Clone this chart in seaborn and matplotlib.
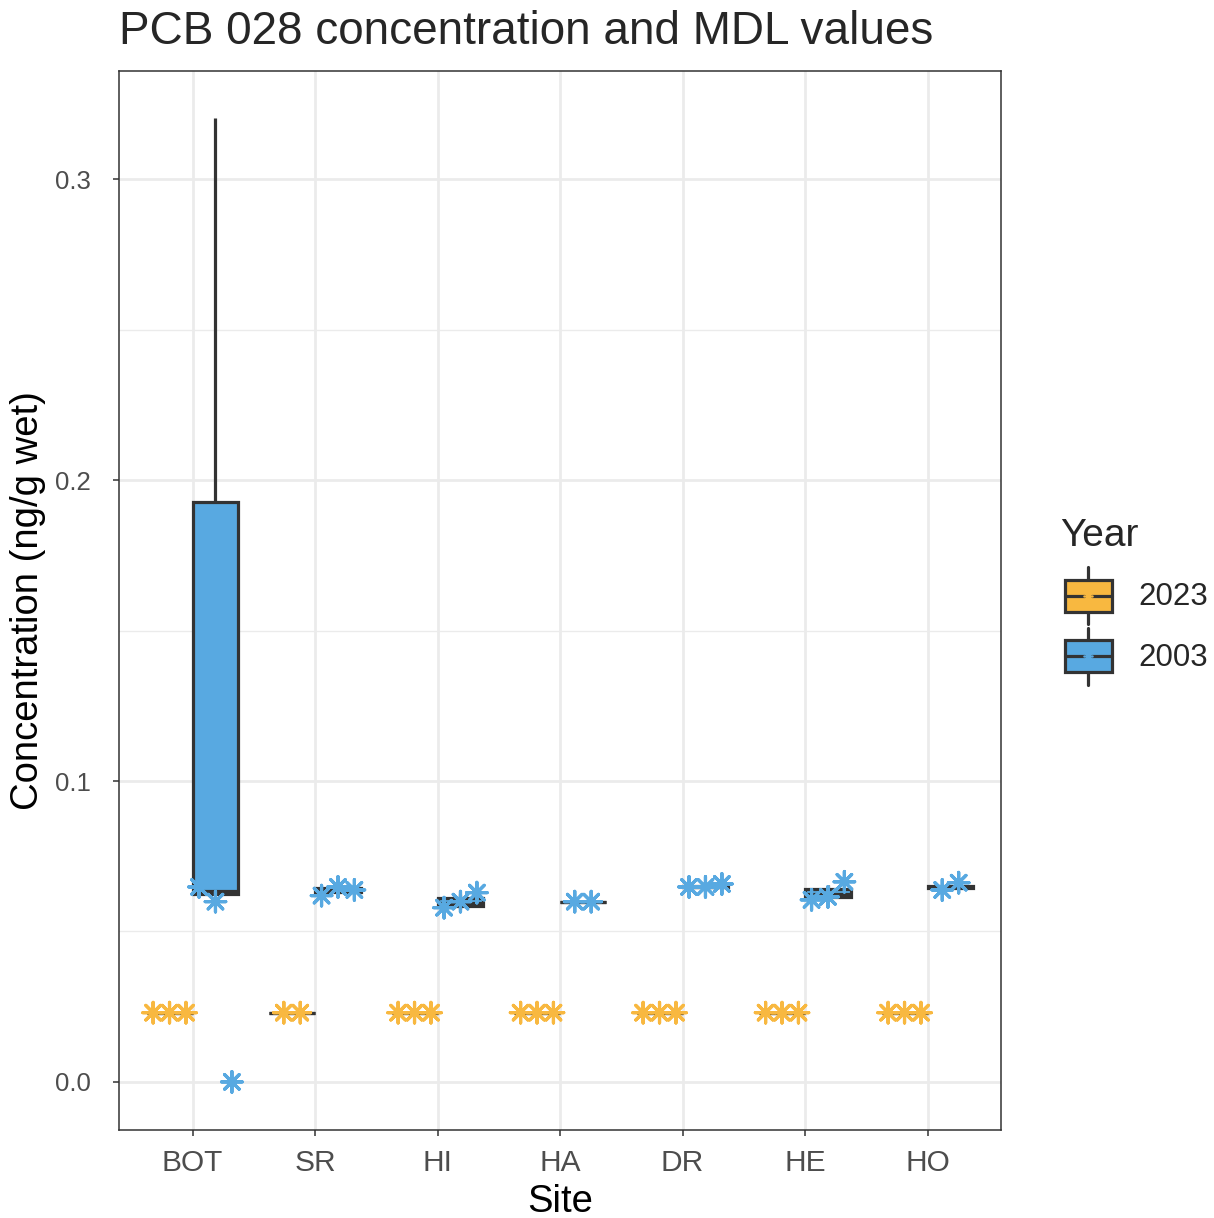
import numpy as np
import pandas as pd
import matplotlib
matplotlib.use("Agg")
import matplotlib.pyplot as plt
import seaborn as sns
from matplotlib.legend_handler import HandlerBase
from matplotlib.patches import Rectangle, Patch
from matplotlib.lines import Line2D

# ---- data -------------------------------------------------------------
sites = ["BOT", "SR", "HI", "HA", "DR", "HE", "HO"]
years = ["2023", "2003"]
year_colors = ["#F8B840", "#58A9E1"]

# PCB 028 concentrations (ng/g wet), one list per site
conc_2023 = [
    [0.023, 0.023, 0.023],
    [0.023, 0.023, 0.023],
    [0.023, 0.023, 0.023],
    [0.023, 0.023, 0.023],
    [0.023, 0.023, 0.023],
    [0.023, 0.023, 0.023],
    [0.023, 0.023, 0.023],
]
conc_2003 = [
    [0.0622, 0.0625, 0.0635, 0.1926, 0.3203],
    [0.0625, 0.0635, 0.0655],
    [0.0575, 0.0595, 0.0625],
    [0.0598, 0.0599, 0.0600],
    [0.0647, 0.0648, 0.0652],
    [0.0602, 0.0625, 0.0655],
    [0.0640, 0.0648, 0.0652],
]

# method detection limits (ng/g wet), one list per site
mdl_2023 = [
    [0.023, 0.023, 0.023],
    [0.023, 0.023],
    [0.023, 0.023, 0.023],
    [0.023, 0.023, 0.023],
    [0.023, 0.023, 0.023],
    [0.023, 0.023, 0.023],
    [0.023, 0.023, 0.023],
]
mdl_2003 = [
    [0.0648, 0.0599, 0.0],
    [0.0619, 0.0648, 0.0638],
    [0.0579, 0.0599, 0.0629],
    [0.0599, 0.0599],
    [0.0648, 0.0648, 0.0658],
    [0.0605, 0.0615, 0.0665],
    [0.0638, 0.0662],
]

y_ticks = [0.0, 0.1, 0.2, 0.3]
y_tick_labels = ["0.0", "0.1", "0.2", "0.3"]

# ---- tidy tables --------------------------------------------------------
box_rows = []
for year, series in zip(years, [conc_2023, conc_2003]):
    for site, vals in zip(sites, series):
        for v in vals:
            box_rows.append({"Site": site, "Year": year, "Conc": v})
box_df = pd.DataFrame(box_rows)

BOX_W = 0.75            # total dodge width per site
STEP = 0.134            # spacing between replicate MDL points
pt_rows = []
for j, (year, series) in enumerate(zip(years, [mdl_2023, mdl_2003])):
    for i, vals in enumerate(series):
        n = len(vals)
        for k, v in enumerate(vals):
            x = i + (j - 0.5) * BOX_W / 2 + (k - (n - 1) / 2) * STEP
            pt_rows.append({"x": x, "MDL": v, "Year": year})
pt_df = pd.DataFrame(pt_rows)

# ---- style --------------------------------------------------------------
sns.set_style("white")
plt.rcParams["font.family"] = ["Liberation Sans", "DejaVu Sans"]

W, H = 1214, 1218
fig = plt.figure(figsize=(W / 100, H / 100), dpi=100)
ax = fig.add_axes([119 / W, 1 - 1130 / H, (1001 - 119) / W, (1130 - 71) / H])

sns.boxplot(
    data=box_df, x="Site", y="Conc", hue="Year",
    order=sites, hue_order=years, palette=year_colors, saturation=1,
    width=BOX_W, gap=0, linewidth=2.3, linecolor="#333333",
    showfliers=False, showcaps=False, legend=False, ax=ax, zorder=3,
)

star = (8, 2, 0)
sns.scatterplot(
    data=pt_df, x="x", y="MDL", hue="Year", hue_order=years,
    palette=year_colors, marker=star, s=220, linewidth=2.3,
    legend=False, ax=ax, zorder=5,
)

# axes, grid and ticks
ax.set_xlim(-0.6, 6.6)
ax.set_ylim(-0.016, 0.336)
ax.set_xticks(range(len(sites)))
ax.set_xticklabels(sites)
ax.set_yticks(y_ticks)
ax.set_yticklabels(y_tick_labels)
ax.set_yticks([0.05, 0.15, 0.25], minor=True)
ax.set_axisbelow(True)
ax.grid(which="major", color="#EBEBEB", linewidth=2.0)
ax.grid(which="minor", axis="y", color="#EBEBEB", linewidth=1.0)
for sp in ax.spines.values():
    sp.set_visible(True)
    sp.set_color("#333333")
    sp.set_linewidth(1.1)
ax.tick_params(which="major", length=4.5, width=1.1, color="#333333",
               labelcolor="#4D4D4D", bottom=True, left=True)
ax.tick_params(axis="x", which="major", labelsize=21.5, pad=9)
ax.tick_params(axis="y", which="major", labelsize=18.5, pad=16)
ax.tick_params(which="minor", length=0)

ax.set_xlabel("Site", fontsize=27.5, color="black", labelpad=5)
ax.set_ylabel("Concentration (ng/g wet)", fontsize=27.5, color="black", labelpad=6)

fig.text(119 / W, 1 - 44 / H, "PCB 028 concentration and MDL values",
         fontsize=33, ha="left", va="baseline")


# legend keys drawn as small box glyphs
class BoxKey(HandlerBase):
    def create_artists(self, legend, orig_handle, xdescent, ydescent,
                       width, height, fontsize, trans):
        fc = orig_handle.get_facecolor()
        x0, y0 = -xdescent, -ydescent
        bh = height * 0.56
        by = y0 + (height - bh) / 2
        whisk = Line2D([x0 + width / 2] * 2, [y0, y0 + height],
                       color="#333333", lw=2.3, transform=trans)
        rect = Rectangle((x0, by), width, bh, facecolor=fc,
                         edgecolor="#333333", lw=2.3, transform=trans)
        med = Line2D([x0, x0 + width], [y0 + height / 2] * 2,
                     color="#333333", lw=2.3, transform=trans)
        pt = Line2D([x0 + width / 2], [y0 + height / 2], marker=star,
                    markersize=7, mew=1.2, color=fc, transform=trans)
        return [whisk, rect, med, pt]


fig.text(1060 / W, 1 - 546 / H, "Year", fontsize=28, ha="left", va="baseline")
handles = [Patch(facecolor=c) for c in year_colors]
leg = fig.legend(
    handles, years, handler_map={Patch: BoxKey()},
    loc="upper left", bbox_to_anchor=(1065 / W, 1 - 567 / H),
    frameon=False, fontsize=22.5,
    handlelength=1.5, handleheight=2.45, handletextpad=0.85,
    labelspacing=0.1, borderpad=0, borderaxespad=0,
)

fig.savefig("out.png", dpi=100)
